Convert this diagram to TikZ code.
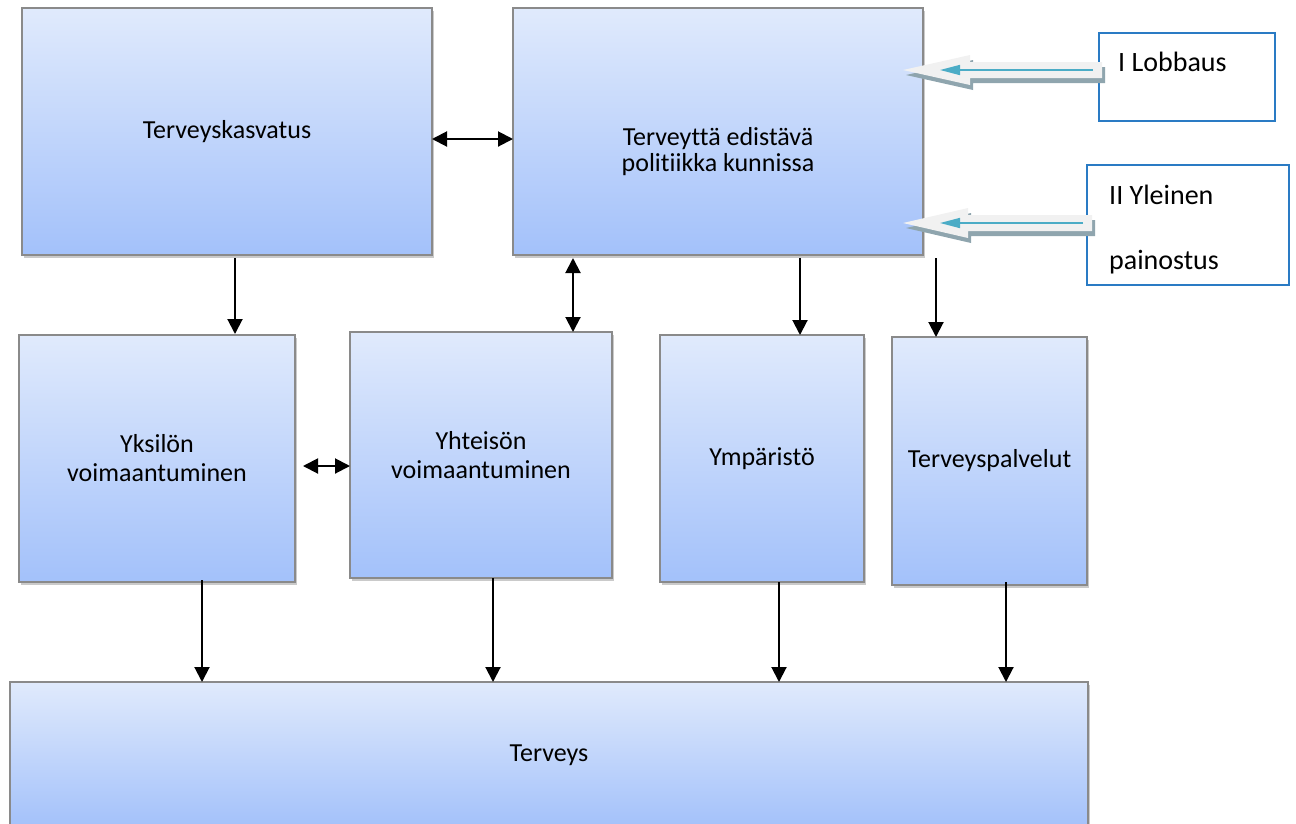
\documentclass[tikz,border=0pt]{standalone}
\usepackage{fontspec}
\setmainfont[Ligatures=CommonOff]{Carlito}
\usetikzlibrary{arrows.meta,shadows,calc}
\definecolor{boxtop}{HTML}{E0EAFC}
\definecolor{boxbot}{HTML}{A3C1FA}
\definecolor{boxline}{HTML}{8A8A8A}
\definecolor{sideblue}{HTML}{2A7BC4}
\definecolor{hollow}{HTML}{F1F1F1}
\definecolor{hollowsh}{HTML}{8FA5AE}
\definecolor{tealarrow}{HTML}{4BACC6}
\tikzset{
  box/.style={draw=boxline, line width=1.2pt, top color=boxtop, bottom color=boxbot,
    anchor=north west, inner sep=0pt, outer sep=0pt, align=center,
    font=\fontsize{26}{29}\selectfont,
    drop shadow={shadow xshift=2pt, shadow yshift=-3pt, opacity=0.35, fill=black!60}},
  sidebox/.style={draw=sideblue, line width=1.3pt, fill=white, anchor=north west, inner sep=0pt, outer sep=0pt},
  sidetext/.style={anchor=west, inner sep=0pt, font=\fontsize{28}{30}\selectfont},
  arr/.style={line width=2pt, -{Triangle[length=15pt,width=15pt]}},
  darr/.style={line width=2pt, {Triangle[length=15pt,width=15pt]}-{Triangle[length=15pt,width=15pt]}},
  tealarr/.style={draw=tealarrow, line width=1.6pt, -{Triangle[length=20pt,width=10pt]}},
}
\begin{document}
\begin{tikzpicture}[x=1pt,y=-1pt]
\useasboundingbox (0,0) rectangle (1296,823);
\clip (0,0) rectangle (1296,823);

% main boxes
\node[box, minimum width=410pt, minimum height=247pt] (tk) at (22,8) {Terveyskasvatus};
\node[box, minimum width=410pt, minimum height=247pt] (pol) at (513,8) {};
\node[font=\fontsize{26}{26}\selectfont, align=center, inner sep=0pt] (polt) at (718,152) {Terveyttä edistävä\\[0pt]politiikka kunnissa};
\node[box, minimum width=276pt, minimum height=247pt] (yk) at (19,335) {Yksilön\\voimaantuminen};
\node[box, minimum width=262pt, minimum height=246pt] (yh) at (350,332) {Yhteisön\\voimaantuminen};
\node[box, minimum width=204pt, minimum height=247pt] (ym) at (660,335) {Ympäristö};
\node[box, minimum width=195pt, minimum height=248pt] (tp) at (892,337) {Terveyspalvelut};
\node[box, minimum width=1078pt, minimum height=146pt] (tv) at (10,682) {Terveys};

% side boxes
\node[sidebox, minimum width=176pt, minimum height=88pt] (lob) at (1099,33) {};
\node[sidetext] (lobt) at (1118,62) {I Lobbaus};
\node[sidebox, minimum width=202pt, minimum height=120pt] (yle) at (1087,165) {};
\node[sidetext] (ylet1) at (1109,195) {II Yleinen};
\node[sidetext] (ylet2) at (1109,262) {painostus};

% hollow block arrows
\fill[hollowsh] (906,75) -- (973,60) -- (973,67) -- (1105,67) -- (1105,83) -- (973,83) -- (973,90) -- cycle;
\fill[hollow] (903,70) -- (970,55) -- (970,62) -- (1102,62) -- (1102,78) -- (970,78) -- (970,85) -- cycle;
\coordinate (l1) at ($(lob.west)+(-6,-7)$);
\coordinate (l1t) at ($(pol.east)+(17,-61.5)$);
\draw[tealarr] (l1) -- (l1t);

\fill[hollowsh] (906,228) -- (971,213) -- (971,220) -- (1095,220) -- (1095,236) -- (971,236) -- (971,243) -- cycle;
\fill[hollow] (903,223) -- (968,208) -- (968,215) -- (1092,215) -- (1092,231) -- (968,231) -- (968,238) -- cycle;
\coordinate (l2) at ($(yle.west)+(-4,-2)$);
\coordinate (l2t) at ($(pol.east)+(17,91.5)$);
\draw[tealarr] (l2) -- (l2t);

% connectors
\draw[darr] ([yshift=-7.5pt]tk.east) -- ([yshift=-7.5pt]pol.west);
\draw[arr] ($(tk.south)+(8,3)$) -- ($(yk.north)+(78,-1)$);
\draw[darr] ($(pol.south)+(-145,3)$) -- ($(yh.north)+(92,0)$);
\draw[arr] ($(pol.south)+(82,3)$) -- ($(ym.north)+(38,0)$);
\draw[arr] ($(pol.south east)+(13,3)$) -- ($(tp.north)+(-53.5,0)$);
\draw[darr] ($(yk.east)+(8,7.5)$) -- ($(yh.west)+(0,11)$);
\draw[arr] ($(yk.south)+(45,-2)$) -- ($(tv.north)+(-347,0)$);
\draw[arr] ($(yh.south)+(12,0)$) -- ($(tv.north)+(-56,0)$);
\draw[arr] ($(ym.south)+(17,0)$) -- ($(tv.north)+(230,0)$);
\draw[arr] ($(tp.south)+(16.5,-3)$) -- ($(tv.north)+(457,0)$);
\end{tikzpicture}
\end{document}
